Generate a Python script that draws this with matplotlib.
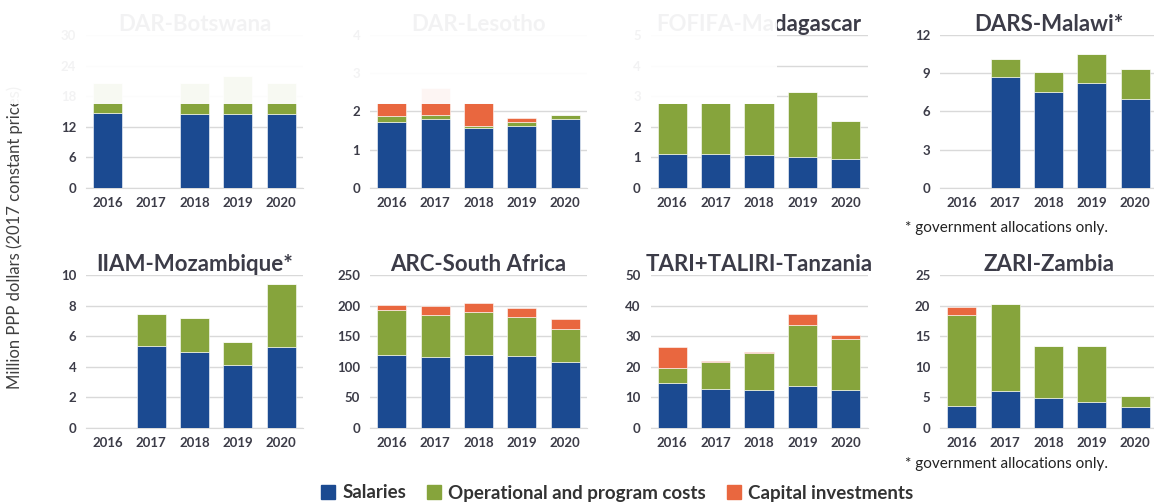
import matplotlib.pyplot as plt
from matplotlib.patches import Rectangle, Patch

plt.rcParams['font.family'] = ['Lato', 'DejaVu Sans']

years = ['2016', '2017', '2018', '2019', '2020']

# salaries / operational / capital, million PPP dollars
bw_sal = [14.7, 0, 14.5, 14.5, 14.5]
bw_ops = [5.8, 0, 6.0, 7.5, 6.0]
bw_cap = [0, 0, 0, 0, 0]

ls_sal = [1.73, 1.80, 1.56, 1.61, 1.80]
ls_ops = [0.16, 0.11, 0.06, 0.11, 0.11]
ls_cap = [0.34, 0.69, 0.60, 0.11, 0]

mg_sal = [1.09, 1.09, 1.07, 1.00, 0.95]
mg_ops = [1.69, 1.69, 1.71, 2.12, 1.23]
mg_cap = [0, 0, 0, 0, 0]

mw_sal = [0, 8.73, 7.50, 8.20, 6.97]
mw_ops = [0, 1.36, 1.62, 2.29, 2.36]
mw_cap = [0, 0, 0, 0, 0]

mz_sal = [0, 5.35, 4.93, 4.10, 5.26]
mz_ops = [0, 2.10, 2.27, 1.53, 4.13]
mz_cap = [0, 0, 0, 0, 0]

za_sal = [118.7, 116, 119, 117, 107]
za_ops = [74.3, 68, 70, 63.5, 54.4]
za_cap = [7.8, 15.7, 15.6, 14.8, 16.4]

tz_sal = [14.7, 12.7, 12.5, 13.8, 12.5]
tz_ops = [5.0, 8.85, 12.0, 19.9, 16.4]
tz_cap = [6.7, 0.35, 0.3, 3.4, 1.5]

zm_sal = [3.56, 6.0, 4.8, 4.16, 3.34]
zm_ops = [14.84, 14.24, 8.5, 9.14, 1.8]
zm_cap = [1.35, 0, 0, 0, 0]

titles = ['DAR-Botswana', 'DAR-Lesotho', 'FOFIFA-Madagascar', 'DARS-Malawi*',
          'IIAM-Mozambique*', 'ARC-South Africa', 'TARI+TALIRI-Tanzania', 'ZARI-Zambia']
yticks = [[0, 6, 12, 18, 24, 30], [0, 1, 2, 3, 4], [0, 1, 2, 3, 4, 5], [0, 3, 6, 9, 12],
          [0, 2, 4, 6, 8, 10], [0, 50, 100, 150, 200, 250], [0, 10, 20, 30, 40, 50],
          [0, 5, 10, 15, 20, 25]]

data = [(bw_sal, bw_ops, bw_cap), (ls_sal, ls_ops, ls_cap), (mg_sal, mg_ops, mg_cap),
        (mw_sal, mw_ops, mw_cap), (mz_sal, mz_ops, mz_cap), (za_sal, za_ops, za_cap),
        (tz_sal, tz_ops, tz_cap), (zm_sal, zm_ops, zm_cap)]

blue = '#1b4a91'
green = '#86a43c'
red = '#e9673f'
txt = '#3c3c48'

W, H = 1154, 504
fig = plt.figure(figsize=(W / 100, H / 100), dpi=100)

lefts = [86, 370, 650.5, 940]
bottoms = [187.7, 427.7]
aw, ah = 217, 152.7

for i in range(8):
    row, col = divmod(i, 4)
    ax = fig.add_axes([lefts[col] / W, 1 - bottoms[row] / H, aw / W, ah / H])
    sal, ops, cap = data[i]
    x = range(len(years))
    b2 = [s + o for s, o in zip(sal, ops)]
    ax.bar(x, sal, width=0.67, color=blue, edgecolor='white', linewidth=0.4, zorder=3)
    ax.bar(x, ops, bottom=sal, width=0.67, color=green, edgecolor='white', linewidth=0.4, zorder=3)
    ax.bar(x, cap, bottom=b2, width=0.67, color=red, edgecolor='white', linewidth=0.4, zorder=3)
    ax.set_xlim(-0.5, 4.5)
    ax.set_ylim(0, yticks[i][-1])
    ax.set_yticks(yticks[i])
    ax.set_xticks(list(x))
    ax.set_xticklabels(years)
    ax.grid(axis='y', color='#d9d9d9', linewidth=1, zorder=0)
    for s in ['top', 'right', 'left']:
        ax.spines[s].set_visible(False)
    ax.spines['bottom'].set_color('#d9d9d9')
    ax.tick_params(length=0, labelsize=9.5, labelcolor=txt)
    ax.tick_params(axis='x', pad=7)
    ax.tick_params(axis='y', pad=7)
    for lab in ax.get_xticklabels() + ax.get_yticklabels():
        lab.set_fontweight('bold')
    ax.set_title(titles[i], fontsize=16, fontweight='bold', color=txt, pad=3)

fig.text(905 / W, 1 - 228 / H, '* government allocations only.', fontsize=11, va='center', color='#222222')
fig.text(905 / W, 1 - 464 / H, '* government allocations only.', fontsize=11, va='center', color='#222222')

fig.text(15 / W, 1 - 237 / H, 'Million PPP dollars (2017 constant prices)', rotation=90,
         ha='center', va='center', fontsize=12, color='#404040')

handles = [Patch(color=blue), Patch(color=green), Patch(color=red)]
fig.legend(handles, ['Salaries', 'Operational and program costs', 'Capital investments'],
           loc='center', bbox_to_anchor=(617 / W, 1 - 493 / H), ncol=3, frameon=False,
           prop={'size': 13.5, 'weight': 'bold'}, handlelength=0.75, handleheight=0.75,
           handletextpad=0.4, columnspacing=1.1, labelcolor='#333333')

# faded top-left strip of the original picture
fig.add_artist(Rectangle((0, 1 - 104 / H), 777 / W, 104 / H, transform=fig.transFigure,
                         facecolor='white', edgecolor='none', alpha=0.94, zorder=10))

fig.savefig('out.png', dpi=100)
